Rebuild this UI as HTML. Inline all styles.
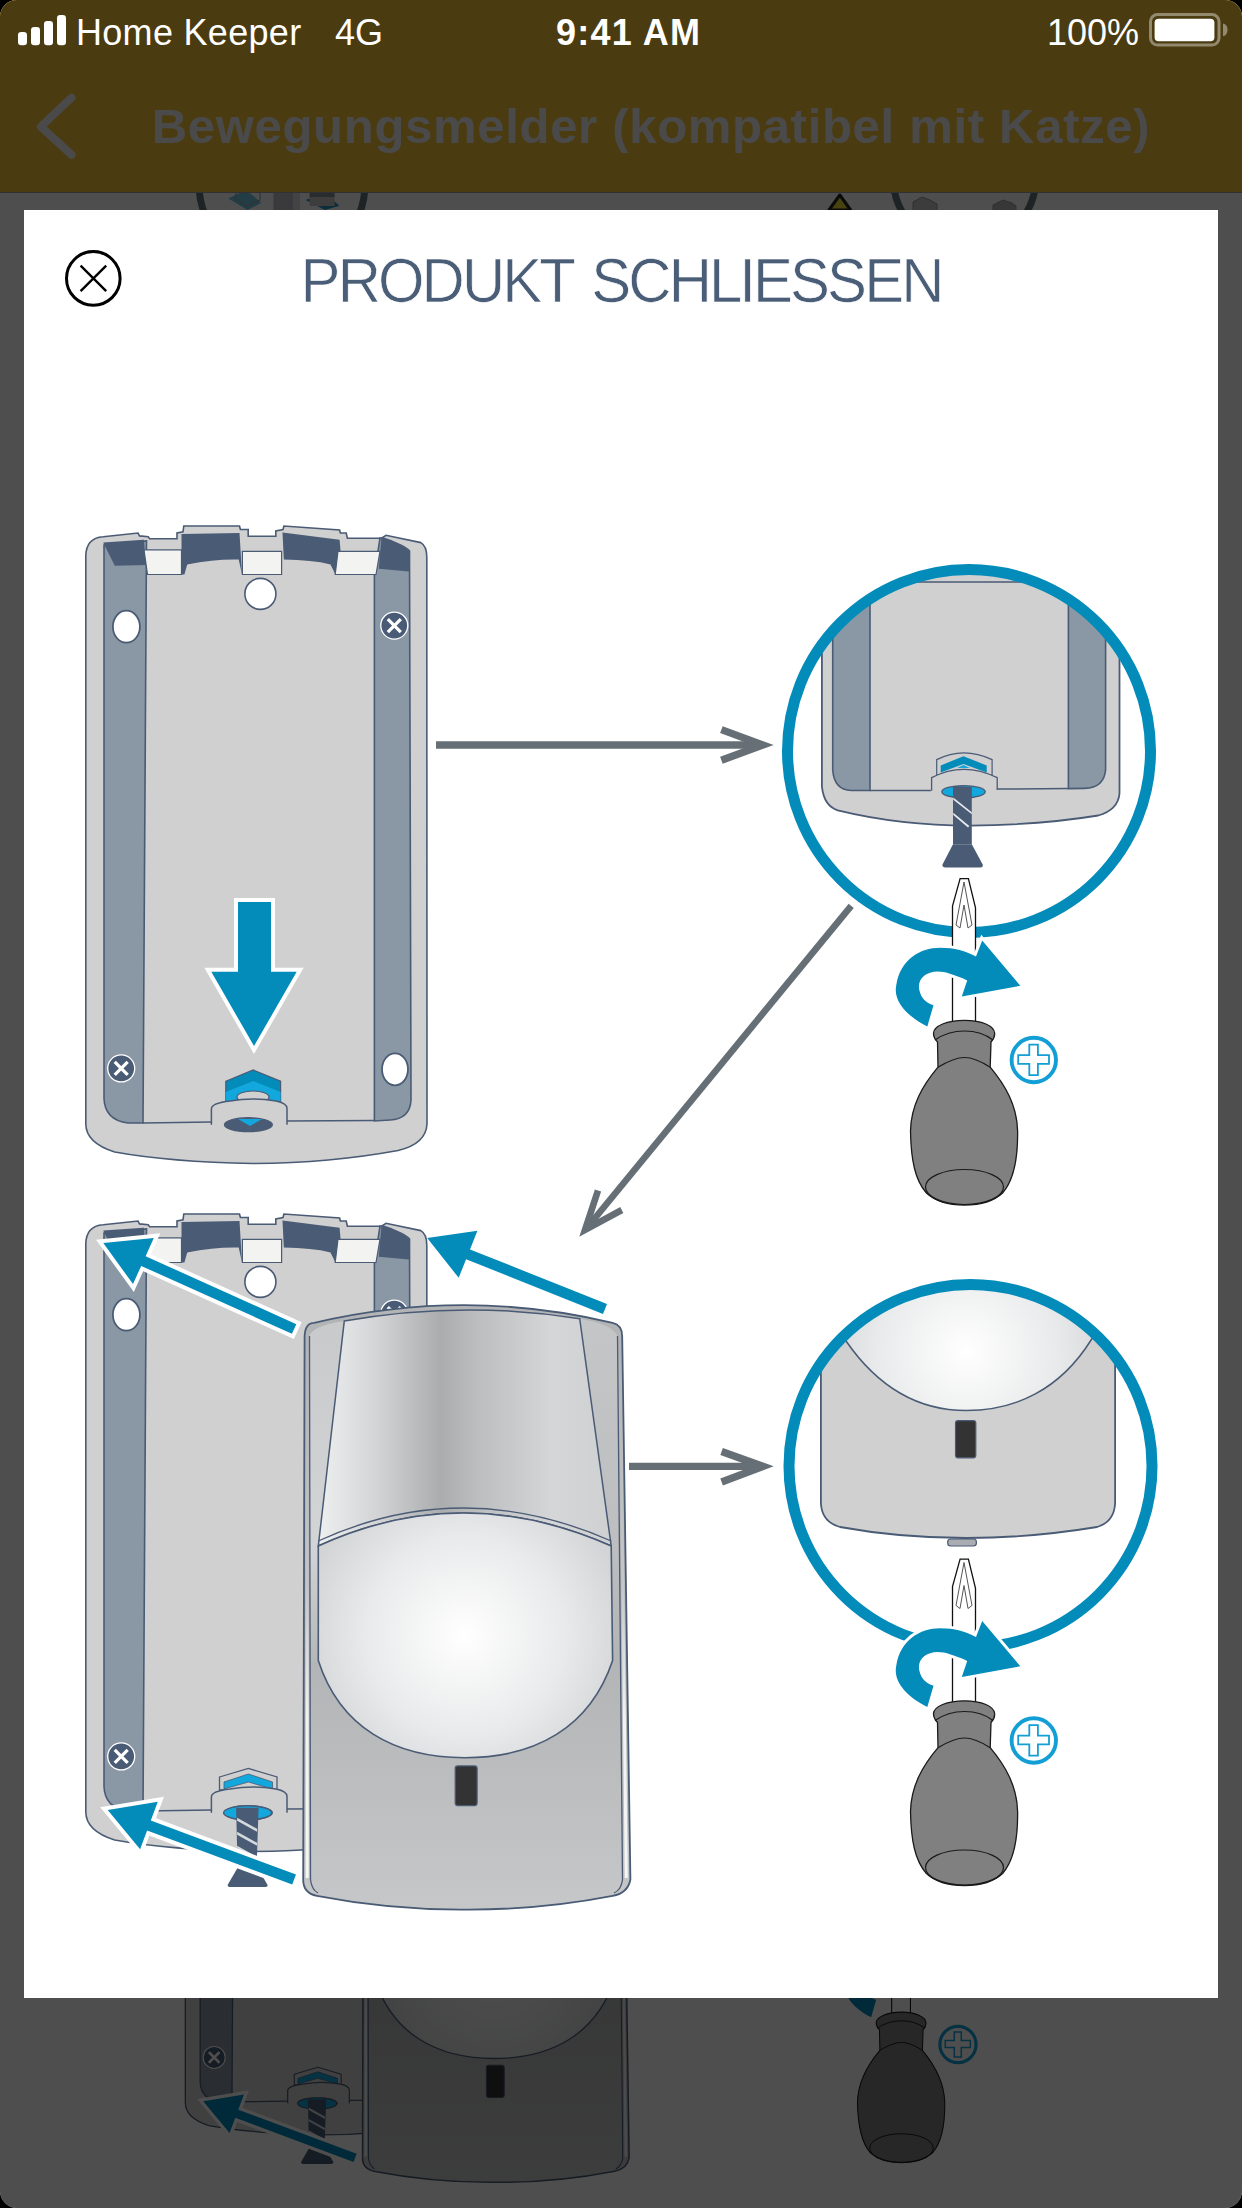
<!DOCTYPE html>
<html><head><meta charset="utf-8">
<style>
html,body{margin:0;padding:0;background:#000;width:1242px;height:2208px;overflow:hidden}
#screen{position:absolute;left:0;top:0;width:1242px;height:2208px;border-radius:17px;overflow:hidden;background:#fff}
#page{position:absolute;left:0;top:0;width:1242px;height:2208px}
#navbar{position:absolute;left:0;top:0;width:1242px;height:192px;background:#f5c035;border-bottom:1px solid #a0a0a8}
#navtitle{position:absolute;left:30px;top:96px;width:1242px;text-align:center;font:700 49px/60px "Liberation Sans",sans-serif;color:#f0f0f2;white-space:nowrap;letter-spacing:0.7px}
#overlay{position:absolute;left:0;top:0;width:1242px;height:2208px;background:rgba(0,0,0,0.694)}
#modal{position:absolute;left:24px;top:210px;width:1194px;height:1788px;background:#fff}
#title{position:absolute;left:0;top:240px;width:1242px;text-align:center;font:400 63px/80px "Liberation Sans",sans-serif;color:#4a5e78;letter-spacing:-3.05px;word-spacing:6px;white-space:nowrap;-webkit-text-stroke:0.7px #fff;transform:scaleX(0.95);transform-origin:622px 0}
.sb{position:absolute;top:8.5px;font:400 36px/48px "Liberation Sans",sans-serif;color:#fff;white-space:nowrap}
svg{position:absolute;left:0;top:0}
</style></head><body>
<div id="screen">
  <div id="page">
    <svg width="1242" height="2208" viewBox="0 0 1242 2208" id="bgsvg">
      <use href="#illus" transform="translate(115.4,626) scale(0.815)"/>
      <!-- top strip content of page -->
      <circle cx="282" cy="184" r="83" fill="none" stroke="#63767c" stroke-width="7"/>
      <path d="M228.3,198.5 L246,190 L261.3,202.8 L247.6,210 Z" fill="#3fb3d6" opacity="0.75"/>
      <path d="M236,192 L260,192 L260,200 L246,206 L236,199 Z" fill="none" stroke="#9aa6b0" stroke-width="1.2"/>
      <rect x="273.4" y="188" width="20" height="24" fill="#bfbfc5"/>
      <rect x="293" y="188" width="7" height="24" fill="#dcdcdc"/>
      <path d="M305.6,200 L325,193 L339.4,205.7 L325,210 Z" fill="#2396be"/>
      <rect x="309.6" y="188" width="25" height="9" fill="#878f99"/>
      <rect x="309.6" y="197" width="25" height="9" fill="#c8c8c8"/>
      <circle cx="964.5" cy="176.4" r="71.5" fill="none" stroke="#63767c" stroke-width="7"/>
      <path d="M839.8,195 L829,210 L850.6,210 Z" fill="#ecd833" stroke="#222" stroke-width="3" stroke-linejoin="round"/>
      <path d="M913,202 L922,197 L930,200 L937,204 L937,212 L913,212 Z" fill="#c3c3c3" stroke="#9a9a9a" stroke-width="1"/>
      <path d="M993,205 L1003,200 L1012,203 L1016,206 L1016,212 L993,212 Z" fill="#b5b5b5" stroke="#9a9a9a" stroke-width="1"/>
    </svg>
    <div id="navbar"></div>
    <svg width="1242" height="2208" viewBox="0 0 1242 2208" id="navsvg">
      <path d="M71.5 97.7 L40.9 126.7 L71.5 154.7" fill="none" stroke="#f0f0f2" stroke-width="8" stroke-linecap="round" stroke-linejoin="round"/>
    </svg>
    <div id="navtitle">Bewegungsmelder (kompatibel mit Katze)</div>
  </div>
  <div id="overlay"></div>
  <div id="modal"></div>
  <div id="title">PRODUKT SCHLIESSEN</div>
  <svg width="1242" height="2208" viewBox="0 0 1242 2208" id="fg">
<defs>
<linearGradient id="gPanel" x1="318" y1="0" x2="611" y2="0" gradientUnits="userSpaceOnUse">
<stop offset="0" stop-color="#eeefef"/><stop offset="0.2" stop-color="#d3d4d6"/><stop offset="0.42" stop-color="#abacae"/><stop offset="0.55" stop-color="#bdbec0"/><stop offset="0.8" stop-color="#d5d6d8"/><stop offset="1" stop-color="#cfd0d2"/>
</linearGradient>
<linearGradient id="gBody" x1="0" y1="1660" x2="0" y2="1910" gradientUnits="userSpaceOnUse">
<stop offset="0" stop-color="#b3b4b6"/><stop offset="1" stop-color="#c6c7c9"/>
</linearGradient>
<linearGradient id="gSideL" x1="0" y1="1330" x2="0" y2="1662" gradientUnits="userSpaceOnUse">
<stop offset="0" stop-color="#c9cacc"/><stop offset="0.65" stop-color="#d3d4d6"/><stop offset="1" stop-color="#b5b6b8"/>
</linearGradient>
<linearGradient id="gSideR" x1="0" y1="1330" x2="0" y2="1662" gradientUnits="userSpaceOnUse">
<stop offset="0" stop-color="#c4c5c7"/><stop offset="0.65" stop-color="#bdbec0"/><stop offset="1" stop-color="#b3b4b6"/>
</linearGradient>
<linearGradient id="gHL" x1="0" y1="1345" x2="0" y2="1878" gradientUnits="userSpaceOnUse">
<stop offset="0" stop-color="#f0f0f0" stop-opacity="0"/><stop offset="0.45" stop-color="#f0f0f0" stop-opacity="0.3"/><stop offset="0.7" stop-color="#f2f2f2" stop-opacity="1"/><stop offset="1" stop-color="#f6f6f6"/>
</linearGradient>
<radialGradient id="gDome" cx="464.7" cy="1635.8" r="165" gradientUnits="userSpaceOnUse">
<stop offset="0" stop-color="#ffffff"/><stop offset="0.6" stop-color="#e9eaeb"/><stop offset="1" stop-color="#d3d4d6"/>
</radialGradient>
<radialGradient id="gDome2" cx="966.3" cy="1351.3" r="150" gradientUnits="userSpaceOnUse">
<stop offset="0" stop-color="#ffffff"/><stop offset="0.6" stop-color="#e9eaeb"/><stop offset="1" stop-color="#d3d4d6"/>
</radialGradient>
<clipPath id="c1"><circle cx="969" cy="751" r="181.5"/></clipPath>
<clipPath id="c2"><circle cx="970.5" cy="1466" r="181.5"/></clipPath>
</defs>
<g id="illus">
<path d="M85.8,1124 L85.8,556 Q86,538 103.2,536.7 L138.0,533.0 L139.5,535.9 L148.2,536.7 L149.6,538.8 L177.0,538.8 L177.0,533.0 L183.0,531.8 L183.8,526.0 L239.5,526.0 L240.4,529.5 L248.2,529.5 L248.2,536.2 L275.8,536.2 L275.8,531.0 L283.0,529.5 L283.9,526.0 L339.6,530.0 L340.4,533.0 L346.2,533.0 L347.4,538.2 L381.6,538.2 L386.0,535.3 L420.8,542.6 Q427,546 426.8,558 L427,1124 Q426,1144 398,1150.5 Q330,1163 253,1163.5 Q170,1162 114.7,1152 Q86,1143 85.8,1124 Z" fill="#d0d0d0" stroke="#4a5b75" stroke-width="1.6"/>
<path d="M104,545 L146.5,541 L143,1123 L128,1123 Q104.5,1120 104,1098 Z" fill="#8a97a4" stroke="#4a5b75" stroke-width="1.6"/>
<path d="M380,538 Q405,545 409.5,551 L411,1100 Q410,1119 390,1120 L374.4,1121 L374.4,575 Z" fill="#8a97a4" stroke="#4a5b75" stroke-width="1.6"/>
<path d="M143,1123 L211.4,1122 M287,1121 L374.4,1120.5" stroke="#4a5b75" stroke-width="1.5" fill="none"/>
<path d="M103.2,542.6 L143.8,539.7 L146.1,564.9 L114.8,565.8 Z" fill="#4a5b75"/>
<path d="M144,549.8 L181.5,549.8 L181.5,574.5 L147.5,574.5 Z" fill="#f3f3f2" stroke="#4a5b75" stroke-width="1.2"/>
<path d="M181.5,533.9 L239.5,533 L242,574.5 L238.7,559.6 Q215,559 187.2,564.4 L184.4,574.5 L181.5,574.5 Z" fill="#4a5b75"/>
<path d="M242.4,551.3 L281.6,551.3 L281.6,574.5 L242.4,574.5 Z" fill="#f3f3f2" stroke="#4a5b75" stroke-width="1.2"/>
<path d="M282.5,532.5 L339.6,539.7 L341,556 L335.4,574.5 L330.5,564.4 Q312,560 283.8,559.6 Z" fill="#4a5b75"/>
<path d="M338,551.3 L380,551.3 L376,574.5 L335.2,574.5 Z" fill="#f3f3f2" stroke="#4a5b75" stroke-width="1.2"/>
<path d="M381.6,536.7 Q400,542 409.2,551.3 L409.2,571.6 L378.7,568.7 Z" fill="#4a5b75"/>
<circle cx="260.4" cy="593.9" r="15.5" fill="#fff" stroke="#4a5b75" stroke-width="1.6"/>
<ellipse cx="126.4" cy="626.7" rx="13.5" ry="16" fill="#fff" stroke="#4a5b75" stroke-width="1.8"/>
<ellipse cx="395" cy="1069.3" rx="13" ry="16" fill="#fff" stroke="#4a5b75" stroke-width="1.8"/>
<circle cx="394.3" cy="625.6" r="13.5" fill="#4a5b75" stroke="#fff" stroke-width="1.3"/>
<path d="M387.8,619.1 L400.8,632.1 M400.8,619.1 L387.8,632.1" stroke="#fff" stroke-width="3.2"/>
<circle cx="121.2" cy="1068.4" r="13.5" fill="#4a5b75" stroke="#fff" stroke-width="1.3"/>
<path d="M114.7,1061.9 L127.7,1074.9 M127.7,1061.9 L114.7,1074.9" stroke="#fff" stroke-width="3.2"/>
<path d="M225.8,1081.2 L253.2,1070 L280.6,1081.2 L280.6,1102 L225.8,1102 Z" fill="#038bba" stroke="#4a5b75" stroke-width="1.2"/>
<path d="M225.8,1092 L253.2,1081 L280.6,1092 L280.6,1102 L225.8,1102 Z" fill="#12a8dd"/>
<ellipse cx="253" cy="1097" rx="16" ry="6" fill="#d0d0d0" stroke="#4a5b75" stroke-width="1.2"/>
<path d="M211.4,1124.7 L211.4,1108.6 Q212,1103 230,1101 Q253,1097 276,1101 Q287,1103 287,1108.6 L287,1124.7" fill="#d0d0d0" stroke="#4a5b75" stroke-width="1.5"/>
<ellipse cx="248.4" cy="1124.7" rx="24" ry="7" fill="#4a5b75" stroke="#4a5b75" stroke-width="1.2"/>
<path d="M238,1119 L250,1126 L262,1119 Z" fill="#12a8dd"/>
<path d="M238,902 L271,902 L271,971.8 L296.7,971.8 L254,1046 L211.3,971.8 L238,971.8 Z" fill="#038bba" stroke="#fff" stroke-width="8" paint-order="stroke" stroke-linejoin="miter"/>
<path d="M85.8,1812 L85.8,1244 Q86,1226 103.2,1224.7 L138.0,1221.0 L139.5,1223.9 L148.2,1224.7 L149.6,1226.8 L177.0,1226.8 L177.0,1221.0 L183.0,1219.8 L183.8,1214.0 L239.5,1214.0 L240.4,1217.5 L248.2,1217.5 L248.2,1224.2 L275.8,1224.2 L275.8,1219.0 L283.0,1217.5 L283.9,1214.0 L339.6,1218.0 L340.4,1221.0 L346.2,1221.0 L347.4,1226.2 L381.6,1226.2 L386.0,1223.3 L420.8,1230.6 Q427,1234 426.8,1246 L427,1812 Q426,1832 398,1838.5 Q330,1851 253,1851.5 Q170,1850 114.7,1840 Q86,1831 85.8,1812 Z" fill="#d0d0d0" stroke="#4a5b75" stroke-width="1.6"/>
<path d="M104,1233 L146.5,1229 L143,1811 L128,1811 Q104.5,1808 104,1786 Z" fill="#8a97a4" stroke="#4a5b75" stroke-width="1.6"/>
<path d="M380,1226 Q405,1233 409.5,1239 L411,1788 Q410,1807 390,1808 L374.4,1809 L374.4,1263 Z" fill="#8a97a4" stroke="#4a5b75" stroke-width="1.6"/>
<path d="M143,1811 L211.4,1810 M287,1809 L374.4,1808.5" stroke="#4a5b75" stroke-width="1.5" fill="none"/>
<path d="M103.2,1230.6 L143.8,1227.7 L146.1,1252.9 L114.8,1253.8 Z" fill="#4a5b75"/>
<path d="M144,1237.8 L181.5,1237.8 L181.5,1262.5 L147.5,1262.5 Z" fill="#f3f3f2" stroke="#4a5b75" stroke-width="1.2"/>
<path d="M181.5,1221.9 L239.5,1221 L242,1262.5 L238.7,1247.6 Q215,1247 187.2,1252.4 L184.4,1262.5 L181.5,1262.5 Z" fill="#4a5b75"/>
<path d="M242.4,1239.3 L281.6,1239.3 L281.6,1262.5 L242.4,1262.5 Z" fill="#f3f3f2" stroke="#4a5b75" stroke-width="1.2"/>
<path d="M282.5,1220.5 L339.6,1227.7 L341,1244 L335.4,1262.5 L330.5,1252.4 Q312,1248 283.8,1247.6 Z" fill="#4a5b75"/>
<path d="M338,1239.3 L380,1239.3 L376,1262.5 L335.2,1262.5 Z" fill="#f3f3f2" stroke="#4a5b75" stroke-width="1.2"/>
<path d="M381.6,1224.7 Q400,1230 409.2,1239.3 L409.2,1259.6 L378.7,1256.7 Z" fill="#4a5b75"/>
<circle cx="260.4" cy="1281.9" r="15.5" fill="#fff" stroke="#4a5b75" stroke-width="1.6"/>
<ellipse cx="126.4" cy="1314.7" rx="13.5" ry="16" fill="#fff" stroke="#4a5b75" stroke-width="1.8"/>
<ellipse cx="395" cy="1757.3" rx="13" ry="16" fill="#fff" stroke="#4a5b75" stroke-width="1.8"/>
<circle cx="394.3" cy="1313.6" r="13.5" fill="#4a5b75" stroke="#fff" stroke-width="1.3"/>
<path d="M387.8,1307.1 L400.8,1320.1 M400.8,1307.1 L387.8,1320.1" stroke="#fff" stroke-width="3.2"/>
<circle cx="121.2" cy="1756.4" r="13.5" fill="#4a5b75" stroke="#fff" stroke-width="1.3"/>
<path d="M114.7,1749.9 L127.7,1762.9 M127.7,1749.9 L114.7,1762.9" stroke="#fff" stroke-width="3.2"/>
<path d="M219.5,1777 L248.4,1768.5 L277,1777 L277,1790 L219.5,1790 Z" fill="#d0d0d0" stroke="#4a5b75" stroke-width="1.3"/>
<path d="M224,1782 L248.4,1774 L272.5,1782 L272.5,1789 L248.4,1782 L224,1789 Z" fill="#12a8dd" stroke="#4a5b75" stroke-width="0.8"/>
<path d="M211.4,1812.7 L211.4,1796.6 Q212,1791 230,1789 Q253,1785 276,1789 Q287,1791 287,1796.6 L287,1812.7" fill="#d0d0d0" stroke="#4a5b75" stroke-width="1.5"/>
<ellipse cx="248.4" cy="1812.7" rx="24" ry="7" fill="#4a5b75" stroke="#4a5b75" stroke-width="1.2"/>
<path d="M238,1807 L250,1814 L262,1807 Z" fill="#12a8dd"/>
<ellipse cx="247.6" cy="1812.8" rx="24" ry="7" fill="#12a8dd" stroke="#4a5b75" stroke-width="1.4"/>
<path d="M236.1,1807.8 L258.6,1807.8 L256.6,1867.7 L237.6,1867.7 Z" fill="#4a5b75"/>
<path d="M237.1,1817.8 L257.1,1828.8 L257.1,1831.8 L237.1,1820.8 Z" fill="#d4d9de"/>
<path d="M237.1,1831.8 L257.1,1842.8 L257.1,1845.8 L237.1,1834.8 Z" fill="#d4d9de"/>
<path d="M237.1,1845.8 L257.1,1856.8 L257.1,1859.8 L237.1,1848.8 Z" fill="#d4d9de"/>
<path d="M237.6,1867.7 L257.6,1867.7 L267.6,1885.1 Q267.6,1887.1 264.6,1887.1 L230.6,1887.1 Q227.6,1887.1 227.6,1885.1 Z" fill="#4a5b75"/>
<path d="M304.6,1336.5 Q305,1323 314.2,1322.9 Q464.8,1287.5 612.6,1322.9 Q622.2,1325 622.2,1336.5 L630.4,1879.5 Q628,1893 612.6,1895.9 Q540,1910 464.7,1909.6 Q390,1910 316.9,1895.9 Q303,1893 303.2,1879.5 Z" fill="url(#gBody)" stroke="#4a5b75" stroke-width="1.8"/>
<path d="M309.5,1336 Q312,1326 344.3,1321 L318.3,1546 L318.3,1662 L310.2,1662 Z" fill="url(#gSideL)"/>
<path d="M579.7,1318.7 Q612,1324 617.5,1336 L620,1662 L612.6,1662 L611.2,1546 Z" fill="url(#gSideR)"/>
<path d="M344.3,1321 Q462,1300 579.7,1318.7 L611.2,1546 Q462,1480 318.3,1546 Z" fill="url(#gPanel)" stroke="#4a5b75" stroke-width="1.5"/>
<path d="M318.3,1546 Q462,1480 611.2,1546 L612.6,1660.5 C590,1728 535,1757.7 464.7,1757.7 C395,1757.7 340,1728 318.3,1660.5 Z" fill="url(#gDome)" stroke="#4a5b75" stroke-width="1.6"/>
<path d="M318.3,1541 Q462,1475 611.2,1541" fill="none" stroke="#4a5b75" stroke-width="1.3"/>
<path d="M309.5,1336 L310.5,1880 Q312,1890 318,1893" fill="none" stroke="#4a5b75" stroke-width="1.3"/>
<path d="M617.5,1336 L622.5,1880 Q621,1890 614,1893" fill="none" stroke="#4a5b75" stroke-width="1.3"/>
<path d="M307,1345 L307.2,1878 M620,1345 L626.3,1878" stroke="url(#gHL)" stroke-width="3" fill="none"/>
<rect x="455.2" y="1765.9" width="21.9" height="39.7" rx="2.5" fill="#333" stroke="#4a5b75" stroke-width="1.2"/>
<polygon points="296.3,1324.2 145.6,1256.2 153.8,1238.0 103.3,1243.0 133.0,1284.1 141.2,1265.9 291.9,1333.8" fill="#038bba" stroke="#fff" stroke-width="8" paint-order="stroke" stroke-linejoin="miter"/>
<polygon points="296.0,1874.6 150.8,1820.5 157.8,1801.8 107.7,1810.1 140.1,1849.2 147.1,1830.4 292.2,1884.6" fill="#038bba" stroke="#fff" stroke-width="8" paint-order="stroke" stroke-linejoin="miter"/>
<polygon points="607.0,1304.1 470.0,1249.4 477.4,1230.8 427.2,1238.0 458.7,1277.8 466.1,1259.2 603.0,1313.9" fill="#038bba"/>
<path d="M436,745 L760,745" stroke="#656f75" stroke-width="7.4" fill="none"/>
<path d="M721.4,729.6 L763,745 L721.4,760.3" stroke="#656f75" stroke-width="7.4" fill="none" stroke-linejoin="miter" stroke-miterlimit="10"/>
<path d="M851.2,905.8 L586,1229" stroke="#656f75" stroke-width="6.6" fill="none"/>
<path d="M598,1190.5 L585,1230 L621.8,1210" stroke="#656f75" stroke-width="6.6" fill="none" stroke-linejoin="miter" stroke-miterlimit="10"/>
<path d="M629,1466.4 L760,1466.4" stroke="#656f75" stroke-width="7.4" fill="none"/>
<path d="M721.6,1451.4 L763,1466.4 L721.6,1482" stroke="#656f75" stroke-width="7.4" fill="none" stroke-linejoin="miter" stroke-miterlimit="10"/>
<g clip-path="url(#c1)">
<path d="M821.9,560 L821.9,786.7 Q824,806 837.8,810.4 Q900,825.6 969.7,825.6 Q1040,825 1098.2,815.5 Q1118,810 1119.5,793.5 L1119.5,560 Z" fill="#d0d0d0" stroke="#4a5b75" stroke-width="1.8"/>
<path d="M832.7,560 L832.7,769.8 Q834,790 851.3,790.5 L870,790.5 L870,560 Z" fill="#8a97a4" stroke="#4a5b75" stroke-width="1.6"/>
<path d="M1105.6,560 L1105.6,769.8 Q1104,788 1084.7,788.4 L1068.4,788.6 L1068.4,560 Z" fill="#8a97a4" stroke="#4a5b75" stroke-width="1.6"/>
<path d="M870,790.5 L930.8,790.5 M996.7,789 L1068.4,788.6 M914,582 L1022,582" stroke="#4a5b75" stroke-width="1.5" fill="none"/>
<path d="M936.7,775 L936.7,759.6 Q963.5,746 992.1,759.6 L992.1,775 Z" fill="#d0d0d0" stroke="#4a5b75" stroke-width="1.2"/>
<path d="M940.7,765.4 L963.5,756.3 L986.7,765.4 L986.7,772.6 L963.5,763.9 L940.7,772.6 Z" fill="#038bba"/>
<path d="M957,768 L963.5,765 L970,768 Z" fill="#12a8dd"/>
<path d="M931.6,790.7 L931.6,777.7 Q963.5,761 997.2,777.7 L997.2,790" fill="#d0d0d0" stroke="#4a5b75" stroke-width="1.3"/>
<ellipse cx="963.5" cy="791.8" rx="21.7" ry="6.2" fill="#12a8dd" stroke="#4a5b75" stroke-width="1.3"/>
<path d="M953,786 L971.8,787 L971.8,844.3 L953,844.3 Z" fill="#4a5b75"/>
<path d="M953.3,797.6 L971.8,812.2 L971.8,814.2 L953.3,799.8 Z M953.3,812.8 L969.3,826 L968,827.5 L953.3,815 Z" fill="#e6e9ec"/>
<path d="M953,844.3 L971.8,844.3 L982.7,864.6 Q983.5,867.5 980,867.5 L945.5,867.5 Q942,867.5 942.5,864.6 Z" fill="#4a5b75"/>
</g>
<circle cx="969" cy="751" r="181.5" fill="none" stroke="#038bba" stroke-width="11"/>
<g clip-path="url(#c2)">
<path d="M820.9,1270 L820.9,1503.5 Q822,1522 840,1527 Q900,1538 966.3,1538 Q1030,1538 1097,1527 Q1114,1522 1115.1,1503.5 L1115.1,1270 Z" fill="#d0d0d0" stroke="#4a5b75" stroke-width="1.8"/>
<path d="M800,1270 L846.2,1341.2 C880,1390 920,1410.5 966.3,1410.5 C1015,1410.5 1060,1390 1091.4,1339.5 L1140,1270 Z" fill="url(#gDome2)" stroke="#4a5b75" stroke-width="1.5"/>
<rect x="955.5" y="1420.6" width="20.3" height="37.2" rx="2.5" fill="#333" stroke="#4a5b75" stroke-width="1.2"/>
</g>
<rect x="947.7" y="1539" width="28.7" height="7" rx="3" fill="#a9adb2" stroke="#4a5b75" stroke-width="1.2"/>
<circle cx="970.5" cy="1466" r="181.5" fill="none" stroke="#038bba" stroke-width="11"/>
<path d="M960.1,878.6 L968.4,878.6 L975.5,907.8 L975.5,1022 L952.5,1022 L952.5,906 Z" fill="#fff" stroke="#111" stroke-width="1.3"/>
<path d="M964,882 L956,925 L960,928 L964,905 L968,928 L972,925 Z" fill="none" stroke="#555" stroke-width="1"/>
<path d="M964.5,1020.3 C982,1020.3 994,1026 994.6,1033 C995,1037 993,1040 991,1042 L990.2,1067.2 C1005,1085 1017,1105 1017.6,1131 C1018,1160 1014,1180 1002.6,1193 C993,1202 980,1205 964.5,1205 C949,1205 936,1202 926.4,1193 C915,1180 911,1160 910.5,1131 C911,1105 923,1085 938,1067.2 L937.5,1042 C935.5,1040 933.5,1037 933.5,1033 C934,1026 947,1020.3 964.5,1020.3 Z" fill="#808080" stroke="#1a1a1a" stroke-width="1.3"/>
<path d="M935,1040 C945,1033 955,1031 964.5,1031 C974,1031 984,1033 993,1040 M938,1067.2 C950,1060 958,1057.5 964.5,1057.5 C971,1057.5 979,1060 990.2,1067.2" fill="none" stroke="#1a1a1a" stroke-width="1.2"/>
<ellipse cx="964.5" cy="1187" rx="39" ry="17.5" fill="none" stroke="#1a1a1a" stroke-width="1.2"/>
<path d="M927.3,1026.5 C905,1015 893,1000 896.3,985 C900,960 920,947.7 940,947.7 C955,947.7 965,951 976,956.5 L982.2,940.6 L1020.3,985.8 L961.8,996.4 L967.2,980.4 C955,975 945,971.6 937.9,971.6 C925,971.6 917,980 919.3,990 C921,998 926,1003 933.5,1005.2 Z" fill="#038bba" stroke="#fff" stroke-width="6" paint-order="stroke"/>
<circle cx="1033.8" cy="1060" r="22.2" fill="#fff" stroke="#139fd6" stroke-width="3.9"/>
<path d="M1029.3,1044.7 L1037.9,1044.7 L1037.9,1055.2 L1049,1055.2 L1049,1063.8 L1037.9,1063.8 L1037.9,1075.2 L1029.3,1075.2 L1029.3,1063.8 L1018.2,1063.8 L1018.2,1055.2 L1029.3,1055.2 Z" fill="none" stroke="#139fd6" stroke-width="1.8"/>
<path d="M960.1,1559.1 L968.4,1559.1 L975.5,1588.3 L975.5,1702.5 L952.5,1702.5 L952.5,1586.5 Z" fill="#fff" stroke="#111" stroke-width="1.3"/>
<path d="M964,1562.5 L956,1605.5 L960,1608.5 L964,1585.5 L968,1608.5 L972,1605.5 Z" fill="none" stroke="#555" stroke-width="1"/>
<path d="M964.5,1700.8 C982,1700.8 994,1706.5 994.6,1713.5 C995,1717.5 993,1720.5 991,1722.5 L990.2,1747.7 C1005,1765.5 1017,1785.5 1017.6,1811.5 C1018,1840.5 1014,1860.5 1002.6,1873.5 C993,1882.5 980,1885.5 964.5,1885.5 C949,1885.5 936,1882.5 926.4,1873.5 C915,1860.5 911,1840.5 910.5,1811.5 C911,1785.5 923,1765.5 938,1747.7 L937.5,1722.5 C935.5,1720.5 933.5,1717.5 933.5,1713.5 C934,1706.5 947,1700.8 964.5,1700.8 Z" fill="#808080" stroke="#1a1a1a" stroke-width="1.3"/>
<path d="M935,1720.5 C945,1713.5 955,1711.5 964.5,1711.5 C974,1711.5 984,1713.5 993,1720.5 M938,1747.7 C950,1740.5 958,1738.0 964.5,1738.0 C971,1738.0 979,1740.5 990.2,1747.7" fill="none" stroke="#1a1a1a" stroke-width="1.2"/>
<ellipse cx="964.5" cy="1867.5" rx="39" ry="17.5" fill="none" stroke="#1a1a1a" stroke-width="1.2"/>
<path d="M927.3,1707.0 C905,1695.5 893,1680.5 896.3,1665.5 C900,1640.5 920,1628.2 940,1628.2 C955,1628.2 965,1631.5 976,1637.0 L982.2,1621.1 L1020.3,1666.3 L961.8,1676.9 L967.2,1660.9 C955,1655.5 945,1652.1 937.9,1652.1 C925,1652.1 917,1660.5 919.3,1670.5 C921,1678.5 926,1683.5 933.5,1685.7 Z" fill="#038bba" stroke="#fff" stroke-width="6" paint-order="stroke"/>
<circle cx="1033.8" cy="1740.5" r="22.2" fill="#fff" stroke="#139fd6" stroke-width="3.9"/>
<path d="M1029.3,1725.2 L1037.9,1725.2 L1037.9,1735.7 L1049,1735.7 L1049,1744.3 L1037.9,1744.3 L1037.9,1755.7 L1029.3,1755.7 L1029.3,1744.3 L1018.2,1744.3 L1018.2,1735.7 L1029.3,1735.7 Z" fill="none" stroke="#139fd6" stroke-width="1.8"/>
</g>
    <!-- close icon -->
    <circle cx="93.3" cy="278.4" r="26.8" fill="none" stroke="#000" stroke-width="3"/>
    <path d="M80.6 265.7 L106.2 291.1 M106.2 265.7 L80.6 291.1" stroke="#000" stroke-width="2.4"/>
    <!-- status bar -->
    <rect x="18" y="32" width="9" height="13.2" rx="3.2" fill="#fff"/>
    <rect x="31" y="27" width="9" height="18.2" rx="3.2" fill="#fff"/>
    <rect x="44" y="21" width="9" height="24.2" rx="3.2" fill="#fff"/>
    <rect x="57" y="15" width="9" height="30.2" rx="3.2" fill="#fff"/>
    <rect x="1150.5" y="14.6" width="68.5" height="30.5" rx="7" fill="none" stroke="#fff" stroke-opacity="0.4" stroke-width="3"/>
    <rect x="1154.6" y="18.8" width="59.8" height="22.5" rx="4" fill="#fff"/>
    <path d="M1223 23.4 Q1227.5 24 1227.5 29.8 Q1227.5 35.6 1223 36.2 Z" fill="#fff" fill-opacity="0.4"/>
  </svg>
  <div class="sb" style="left:76px;letter-spacing:0.3px">Home Keeper</div>
  <div class="sb" style="left:335px;letter-spacing:0px">4G</div>
  <div class="sb" style="left:556px;font-weight:700;letter-spacing:1.2px">9:41 AM</div>
  <div class="sb" style="left:1047px;letter-spacing:0px">100%</div>
</div>
</body></html>
